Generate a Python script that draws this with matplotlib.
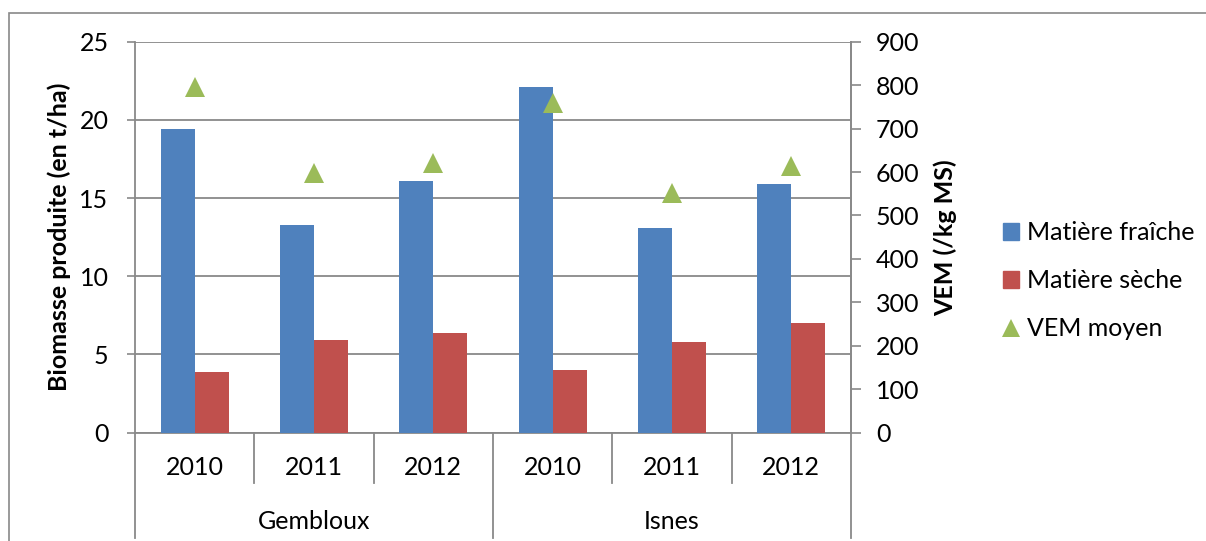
import numpy as np
import matplotlib

matplotlib.use("Agg")
import matplotlib.pyplot as plt
from matplotlib.patches import Rectangle, Patch
from matplotlib.lines import Line2D
import matplotlib.transforms as mtransforms

plt.rcParams["font.family"] = ["Lato", "DejaVu Sans"]

# data
sites = ["Gembloux", "Isnes"]
years = ["2010", "2011", "2012"]
fraiche = [19.4, 13.3, 16.1, 22.1, 13.1, 15.9]
seche = [3.9, 5.9, 6.4, 4.0, 5.8, 7.0]
vem = [795, 598, 621, 758, 552, 614]

BLUE = "#4F81BD"
RED = "#C0504D"
GREEN = "#9BBB59"
GRID = "#898989"
FS = 18

fig = plt.figure(figsize=(12.06, 5.41), dpi=100)
ax = fig.add_axes([0.1119, 0.2002, 0.5937, 0.7227])

# outer chart frame
fig.patches.append(Rectangle((0.0075, -0.05), 1.1, 0.026 + 1.0, transform=fig.transFigure,
                             fill=False, edgecolor=GRID, linewidth=1.2))

x = np.arange(len(fraiche))
w = 1 / 3.5
ax.bar(x - w / 2, fraiche, w, color=BLUE, zorder=3)
ax.bar(x + w / 2, seche, w, color=RED, zorder=3)
ax.set_xlim(-0.5, len(fraiche) - 0.5)
ax.set_ylim(0, 25)
ax.set_yticks(np.arange(0, 26, 5))
ax.grid(True, axis="y", color=GRID, linewidth=1.3)
ax.set_axisbelow(True)
ax.set_xticks([])
ax.spines["top"].set_visible(False)
for side in ["left", "bottom", "right"]:
    ax.spines[side].set_color(GRID)
    ax.spines[side].set_linewidth(1.3)
ax.tick_params(axis="y", direction="out", length=6, width=1.2, color=GRID,
               labelsize=FS, pad=13)
ax.set_ylabel("Biomasse produite (en t/ha)", fontsize=FS, fontweight="bold")
ax.yaxis.set_label_coords(-0.09, 0.5)

ax2 = ax.twinx()
ax2.plot(x, vem, linestyle="none", marker="^", markersize=14.5, color=GREEN,
         markeredgewidth=0, zorder=4)
ax2.set_ylim(0, 900)
ax2.set_yticks(np.arange(0, 901, 100))
for side in ["top", "left", "bottom"]:
    ax2.spines[side].set_visible(False)
ax2.spines["right"].set_color(GRID)
ax2.spines["right"].set_linewidth(1.3)
ax2.tick_params(axis="y", direction="out", length=7, width=1.2, color=GRID,
                labelsize=FS, pad=11)
ax2.set_ylabel("VEM (/kg MS)", fontsize=FS, fontweight="bold")
ax2.yaxis.set_label_coords(1.115, 0.5)

# two-level category axis
trans = mtransforms.blended_transform_factory(ax.transData, ax.transAxes)
for i, xi in enumerate(x):
    ax.text(xi, -0.088, years[i % 3], transform=trans, ha="center", va="center",
            fontsize=FS)
for j, site in enumerate(sites):
    ax.text(j * 3 + 1, -0.226, site, transform=trans, ha="center", va="center",
            fontsize=FS)
for b in np.arange(-0.5, len(fraiche), 1.0):
    long = (b + 0.5) % 3 == 0
    ax.add_line(Line2D([b, b], [0, -0.27 if long else -0.129], transform=trans,
                       color=GRID, linewidth=1.3, clip_on=False))

handles = [
    Patch(color=BLUE),
    Patch(color=RED),
    Line2D([], [], linestyle="none", marker="^", markersize=13, color=GREEN,
           markeredgewidth=0),
]
fig.legend(handles, ["Matière fraîche", "Matière sèche", "VEM moyen"],
           loc="center left", bbox_to_anchor=(0.8317, 0.4806), frameon=False,
           fontsize=FS, borderpad=0, borderaxespad=0, handlelength=0.65,
           handleheight=0.65, handletextpad=0.3, labelspacing=1.0)

fig.savefig("out.png", dpi=100)
